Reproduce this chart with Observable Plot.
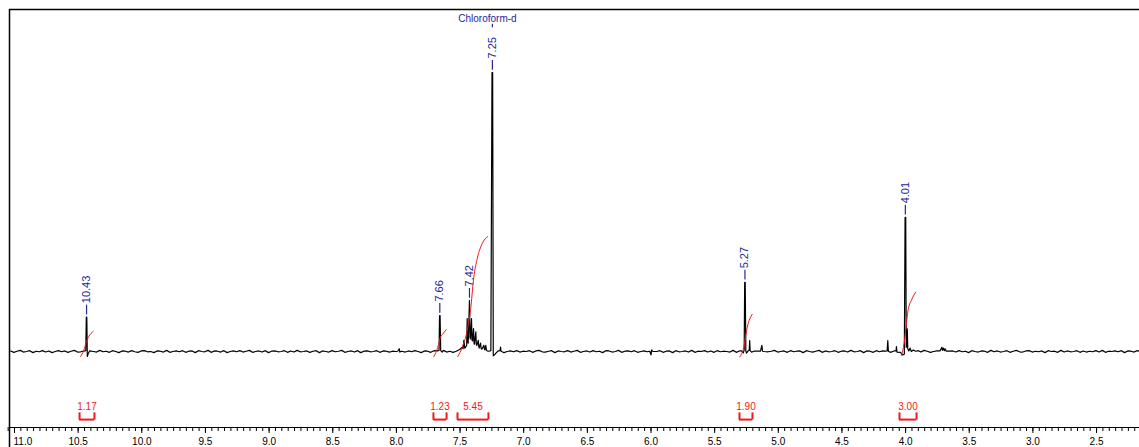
<!DOCTYPE html>
<html><head><meta charset="utf-8">
<script src="https://cdn.jsdelivr.net/npm/d3@7"></script>
<script src="https://cdn.jsdelivr.net/npm/@observablehq/plot@0.6"></script>
<style>body{margin:0;background:#fff}</style>
</head><body><div id="chart"></div>
<script>
// ---- data ----
const majorTicks = [11.0,10.5,10.0,9.5,9.0,8.5,8.0,7.5,7.0,6.5,6.0,5.5,5.0,4.5,4.0,3.5,3.0,2.5];
const minorTicks = d3.range(0, 178).map(i => +(11.05 - i * 0.05).toFixed(2));

const peakLabels = ["10.43","7.66","7.42","7.25","5.27","4.01"];
const peakPpm    = [10.434, 7.659, 7.426, 7.246, 5.262, 4.002];
const peakHeight = [12.3, 12.9, 18.3, 100, 24.8, 48.1];

const solventLabel = "Chloroform-d";
const solventPpm = 7.285;

const integralValues = ["1.17","1.23","5.45","1.90","3.00"];
const integralFrom   = [10.489, 7.709, 7.520, 5.305, 4.048];
const integralTo     = [10.372, 7.606, 7.277, 5.203, 3.914];

// integral curves [ppm, value]
const int1 = [[10.482,-1.8],[10.456,0.4],[10.437,3.3],[10.416,5.4],[10.382,7.2]];
const int2 = [[7.706,-1.8],[7.675,1.5],[7.654,5.1],[7.635,6.3],[7.609,7.8]];
const int3 = [[7.518,-1.8],[7.483,1.5],[7.444,7.5],[7.418,14.7],[7.392,26.6],[7.365,33.3],[7.326,38.7],[7.282,41.2]];
const int4 = [[5.303,-2.0],[5.271,1.5],[5.244,8.7],[5.224,11.7],[5.205,13.3]];
const int5 = [[4.033,-1.4],[4.012,2.8],[3.994,9.9],[3.981,14.7],[3.955,18.3],[3.921,21.3]];

// baseline noise, one value every 0.025 ppm from 11.03 downwards
const baselineNoise = [
0.2,-0.3,0.1,0.4,-0.2,0.0,0.3,-0.4,0.1,-0.1,0.3,-0.2,0.2,-0.4,0.0,0.3,-0.1,0.2,-0.3,0.1,
0.4,-0.2,-0.1,0.3,-0.3,0.2,0.0,-0.2,0.4,-0.1,0.1,-0.3,0.3,0.0,-0.4,0.2,0.1,-0.2,0.3,-0.1,
-0.3,0.2,0.3,-0.1,0.0,-0.4,0.2,0.1,-0.2,0.4,-0.3,0.0,0.2,-0.1,0.3,-0.3,0.1,0.2,-0.4,0.3,
0.0,-0.1,0.4,-0.3,0.2,0.1,-0.2,0.3,-0.4,0.0,0.2,-0.1,0.3,-0.2,0.1,0.4,-0.3,0.0,0.2,-0.2,
0.3,-0.4,0.1,0.2,-0.1,0.0,0.3,-0.3,0.2,-0.2,0.4,-0.1,0.0,0.2,-0.3,0.1,0.3,-0.4,0.2,0.0,
-0.2,0.3,-0.1,0.1,0.4,-0.3,0.0,0.2,-0.2,0.3,-0.4,0.1,0.2,-0.1,0.0,0.3,-0.3,0.2,0.1,-0.2,
0.1,0.0,-0.3,0.4,-0.2,0.2,-0.1,0.3,0.0,-0.4,0.2,0.1,-0.3,0.3,-0.1,0.0,0.4,-0.2,0.1,-0.3,
0.3,-0.1,0.2,-0.4,0.1,0.3,-0.2,0.0,0.2,-0.3,0.4,-0.1,0.1,-0.2,0.3,-0.4,0.0,0.2,-0.1,0.3,
-0.2,0.1,0.0,0.3,-0.3,0.2,0.4,-0.1,-0.2,0.1,0.3,-0.4,0.2,0.0,-0.1,0.3,-0.2,0.1,0.4,-0.3,
0.0,0.2,-0.2,0.3,-0.1,0.1,-0.4,0.3,0.2,-0.2,0.0,0.4,-0.3,0.1,0.2,-0.1,0.3,-0.3,0.0,0.2,
-0.1,0.4,-0.2,0.0,0.3,-0.3,0.1,0.2,-0.4,0.3,-0.1,0.0,0.2,-0.2,0.4,-0.3,0.1,0.0,0.3,-0.2,
0.2,-0.3,0.3,-0.1,0.1,0.0,-0.2,0.4,-0.3,0.2,0.1,-0.1,0.3,-0.4,0.0,0.2,-0.2,0.3,-0.1,0.1,
0.4,-0.2,0.0,0.2,-0.3,0.3,-0.1,0.1,0.2,-0.4,0.3,0.0,-0.2,0.1,0.4,-0.3,0.2,-0.1,0.0,0.3,
-0.3,0.1,0.2,-0.2,0.4,-0.1,0.0,0.3,-0.4,0.2,0.1,-0.3,0.3,-0.1,0.2,0.0,-0.2,0.4,-0.3,0.1,
0.2,0.0,-0.3,0.3,-0.1,0.2,-0.2,0.4,0.1,-0.3,0.0,0.2,-0.1,0.3,-0.4,0.1,0.2,-0.2,0.3,-0.1,
0.1,-0.4,0.3,0.0,-0.2,0.2,0.1,-0.3,0.4,-0.1,0.2,-0.2,0.0,0.3,-0.3,0.1,0.4,-0.1,-0.2,0.2,
0.3,-0.2,0.1,-0.1,0.2,-0.4,0.3,0.0,0.1,-0.3,0.4,-0.2,0.2,-0.1,0.0,0.3,-0.3,0.2,-0.2,0.1,
-0.1,0.3,-0.2,0.4,-0.3,0.1,0.0,0.2,-0.1,0.3,-0.4,0.2,0.1,-0.2,0.3,0.0,-0.3,0.2,-0.1,0.0];

// spectrum segments around signals [ppm, intensity]
const seg1 = [[10.45,0.2],[10.44,0.3],[10.436,12.3],[10.432,12.3],[10.428,-1.8],[10.42,-0.6],[10.41,0.2]];
const seg2 = [[7.99,0.1],[7.978,1.0],[7.973,-0.2],[7.96,0.1]];
const seg3 = [[7.68,0.2],[7.665,0.4],[7.661,12.9],[7.657,12.9],[7.652,0.3],[7.64,-0.2]];
const seg4 = [[7.53,0.1],[7.522,0.3],[7.5,0.8],[7.483,1.5],[7.476,1.0],[7.47,4],[7.463,1.2],[7.457,1.5],
  [7.448,2.2],[7.444,11.8],[7.44,3.5],[7.436,3.0],[7.426,18.3],[7.422,5],[7.418,4.5],[7.41,11.8],[7.406,4],
  [7.402,3.8],[7.394,8.2],[7.39,3],[7.387,2.6],[7.376,7.0],[7.372,2.5],[7.368,2.2],[7.357,4.0],[7.353,1.8],
  [7.35,1.2],[7.339,3.0],[7.335,1.2],[7.329,0.8],[7.313,2.2],[7.308,0.8],[7.305,0.6],[7.298,2.2],[7.293,0.5],
  [7.287,0.2],[7.274,0.1],[7.258,0.3],[7.249,100],[7.244,100],[7.239,-1.5],[7.229,-1.2],[7.215,-0.4],
  [7.2,0.2],[7.186,0.3],[7.182,1.6],[7.178,0.1],[7.165,-0.2]];
const seg5 = [[6.01,0.1],[6.0,-1.2],[5.995,0.6],[5.985,0.0]];
const seg6 = [[5.29,0.2],[5.275,-0.5],[5.268,0.5],[5.264,24.8],[5.26,24.8],[5.255,0.2],[5.25,-0.6],[5.235,0.3],
  [5.228,0.5],[5.225,3.9],[5.221,0.3],[5.21,-0.2],[5.19,0.1],[5.14,0.1],[5.129,2.2],[5.124,0.1],[5.11,0.0]];
const seg7 = [[4.16,0.1],[4.145,0.2],[4.14,3.9],[4.135,0.1],[4.12,-0.3],[4.09,0.2],[4.075,0.2],[4.072,1.8],
  [4.068,-0.2],[4.04,-0.3],[4.025,-1.2],[4.01,-1.0],[4.004,48.1],[3.999,48.1],[3.995,1.5],[3.99,2.0],
  [3.987,8.1],[3.983,1.0],[3.975,0.2],[3.965,1.2],[3.955,0.0],[3.94,0.5],[3.92,0.1],[3.9,0.3]];
const seg8 = [[3.73,0.2],[3.715,1.5],[3.71,0.4],[3.703,1.2],[3.695,0.3],[3.69,1.0],[3.68,0.1]];

// ---- build tables ----
const segments = [seg1,seg2,seg3,seg4,seg5,seg6,seg7,seg8];
const ranges = segments.map(s => [d3.min(s, d => d[0]) - 0.008, d3.max(s, d => d[0]) + 0.008]);
const baseline = baselineNoise.map((v, i) => [+(11.03 - i * 0.025).toFixed(3), v])
  .filter(([p]) => !ranges.some(([a, b]) => p >= a && p <= b));
const spectrum = baseline.concat(...segments).sort((a, b) => b[0] - a[0]);

const integrals = [int1,int2,int3,int4,int5].flatMap((arr, k) => arr.map(([p, v]) => ({p, v, k})));
const peaks = peakLabels.map((t, i) => ({t, p: peakPpm[i], h: peakHeight[i]}));
const ints = integralValues.map((t, i) => ({t, a: integralFrom[i], b: integralTo[i]}));

const X0 = 11.0393, X1 = 2.1626, Y0 = -27.24, Y1 = 122.58;
const blue = "#26269a", red = "#f01818";

const chart = Plot.plot({
  width: 1139, height: 447,
  marginLeft: 9, marginRight: 0, marginTop: 9, marginBottom: 20,
  x: {domain: [X0, X1], label: null},
  y: {domain: [Y0, Y1], axis: null},
  style: {fontFamily: "'Liberation Sans', Arial, sans-serif", background: "#fff", color: "#000"},
  marks: [
    Plot.ruleY([Y1], {x1: X0, x2: X1, stroke: "#000", strokeWidth: 1.5}),
    Plot.ruleX([X0], {y1: -45, y2: Y1, stroke: "#000", strokeWidth: 1.5}),
    Plot.ruleY([Y0], {x1: X0, x2: X1, stroke: "#000", strokeWidth: 1.2}),
    Plot.axisX(minorTicks, {anchor: "bottom", tickSize: 4, tickFormat: () => "", label: null, strokeWidth: 1}),
    Plot.axisX(majorTicks, {anchor: "bottom", tickSize: 6, tickFormat: () => "", label: null, strokeWidth: 1}),
    Plot.text(majorTicks.slice(0, 1), {x: d => d, y: Y0, dy: 14, text: d => d.toFixed(1), textAnchor: "start", dx: -1, fontSize: 10, fill: "#000"}),
    Plot.text(majorTicks.slice(1), {x: d => d, y: Y0, dy: 14, text: d => d.toFixed(1), fontSize: 10, fill: "#000"}),
    // spectrum
    Plot.line(spectrum, {x: d => d[0], y: d => d[1], stroke: "#000", strokeWidth: 1.2, curve: "linear"}),
    // integral curves
    Plot.line(integrals, {x: "p", y: "v", z: "k", stroke: red, strokeWidth: 1, curve: "monotone-x"}),
    // integral brackets
    Plot.ruleY(ints, {y: -24.4, x1: "a", x2: "b", stroke: red, strokeWidth: 2}),
    Plot.ruleX(ints, {x: "a", y1: -24.6, y2: -22.0, stroke: red, strokeWidth: 2}),
    Plot.ruleX(ints, {x: "b", y1: -24.6, y2: -22.0, stroke: red, strokeWidth: 2}),
    Plot.text(ints, {x: d => (d.a + d.b) / 2, y: -19.7, text: "t", fill: red, fontSize: 10}),
    // peak labels
    Plot.ruleX(peaks, {x: "p", y1: d => d.h + 0.8, y2: d => d.h + 4.3, stroke: blue, strokeWidth: 1.2}),
    Plot.text(peaks, {x: "p", y: d => d.h + 5, text: "t", rotate: -90, textAnchor: "start", lineAnchor: "middle", fill: blue, fontSize: 11}),
    Plot.ruleX([peakPpm[3]], {y1: 116.0, y2: 117.3, stroke: blue, strokeWidth: 1.2}),
    Plot.text([solventLabel], {x: solventPpm, y: 119.35, text: d => d, fill: blue, fontSize: 10})
  ]
});
document.getElementById("chart").appendChild(chart);
</script>
</body></html>
